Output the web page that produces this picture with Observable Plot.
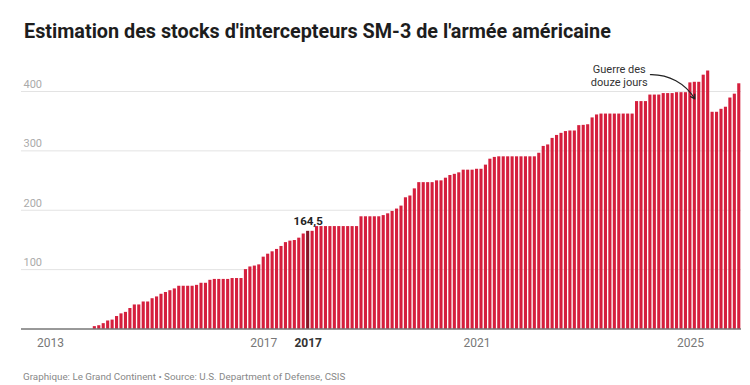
<!DOCTYPE html>
<html><head><meta charset="utf-8">
<script src="https://cdn.jsdelivr.net/npm/d3@7"></script>
<script src="https://cdn.jsdelivr.net/npm/@observablehq/plot@0.6"></script>
<style>
body{margin:0;background:#fff;font-family:Roboto,sans-serif;}
#title{margin:0;padding:20px 0 0 24px;height:30px;font-size:19.8px;line-height:24px;font-weight:700;color:#1d1d1d;white-space:nowrap;}
#footer{padding:10px 0 0 23px;font-size:9.8px;line-height:14px;color:#888;}
</style></head><body>
<div id="title">Estimation des stocks d'intercepteurs SM-3 de l'armée américaine</div>
<div id="chart"></div>
<div id="footer">Graphique: Le Grand Continent • Source: U.S. Department of Defense, CSIS</div>
<script>
// Monthly categories, July 2012 – December 2025
const months = d3.utcMonth.range(new Date(Date.UTC(2012, 6, 1)), new Date(Date.UTC(2026, 0, 1))).map(d3.utcFormat("%Y-%m"));

// Estimated SM-3 stock per month
const values = [
  0,0,0,0,0,0,0,0,0,0,0,0,0,0,0,0,
  4,5.5,9,13.5,15,21,25.5,28,34.5,40.5,
  40.5,45.5,45.5,51,54,58.5,61.5,64.5,67.5,72,
  72,72,72,73.5,77,77,82,83.5,83.5,83.5,
  83.5,85,85,85,100,104.5,106,108,121,126,
  130,134,139,145.5,148,149,153,160,164.5,164.5,
  172.5,172.5,172.5,172.5,172.5,172.5,172.5,172.5,172.5,172.5,
  189,189,189,189,189,191,194,198,202,207,
  221,224,236,246.5,246.5,246.5,246.5,249.5,249.5,254,
  258.5,260.5,263,267.5,267.5,267.5,269,269,276,286,
  289,290,290,290,290,290,290,290,290,290,
  296,307.5,310,321,326,329.5,332.5,333.5,333.5,342.5,
  343,344,355.5,360.5,362,362,362,362,362,362,
  362,362,383,383,383,394,394,394,396.5,396.5,
  396.5,398,398,398,414.5,415.5,415.5,427.5,434.5,365,
  365,370,373.5,389,395.5,413
];

const xTicks = ["2013-01", "2017-01", "2021-01", "2025-01"];
const yTicks = [100, 200, 300, 400];

const highlightMonth = ["2017-11"];
const highlightLabel = ["164,5"];

const noteMonth = ["2023-09"];
const noteValue = [427];
const noteText = ["Guerre des\ndouze jours"];

const arrowFromMonth = ["2024-04"];
const arrowFromValue = [428.5];
const arrowToMonth = ["2025-02"];
const arrowToValue = [387.5];

const data = months.map((m, i) => ({month: m, value: values[i]}));
const highlight = data.filter(d => highlightMonth.includes(d.month)).map((d, i) => ({...d, label: highlightLabel[i]}));
const notes = noteMonth.map((m, i) => ({month: m, value: noteValue[i], text: noteText[i]}));
const arrows = arrowFromMonth.map((m, i) => ({m1: m, v1: arrowFromValue[i], m2: arrowToMonth[i], v2: arrowToValue[i]}));

const chart = Plot.plot({
  width: 750,
  height: 310,
  marginLeft: 21,
  marginRight: 9,
  marginTop: 17.25,
  marginBottom: 31.5,
  style: {fontFamily: "Roboto, sans-serif", background: "white", overflow: "visible"},
  x: {type: "band", domain: months, paddingInner: 0.3, paddingOuter: 0.15},
  y: {domain: [0, 440]},
  marks: [
    Plot.ruleY(yTicks, {stroke: "#e3e3e3"}),
    Plot.axisY(yTicks, {anchor: "left", tickSize: 0, tickPadding: 0, textAnchor: "start", dx: 2, dy: -7, fill: "#aaa", fontSize: 11, label: null}),
    Plot.barY(data.filter(d => !highlightMonth.includes(d.month)), {x: "month", y: "value", fill: "#d51f3d"}),
    Plot.barY(highlight, {x: "month", y: "value", fill: "#861426"}),
    Plot.ruleY([0], {stroke: "#333"}),
    Plot.axisX(xTicks, {tickSize: 0, tickPadding: 9, tickFormat: d => d.slice(0, 4), fill: "#777", fontSize: 12, label: null}),
    Plot.text(highlight, {x: "month", y: () => 0, text: d => d.month.slice(0, 4), lineAnchor: "top", dy: 9, fontSize: 12, fontWeight: "bold", fill: "#333"}),
    Plot.text(highlight, {x: "month", y: "value", text: "label", dy: -10, fontSize: 11.5, fontWeight: "bold", fill: "#222"}),
    Plot.text(notes, {x: "month", y: "value", text: "text", fontSize: 11, lineHeight: 1.14, fill: "#333"}),
    Plot.arrow(arrows, {x1: "m1", y1: "v1", x2: "m2", y2: "v2", bend: 30, stroke: "#222", strokeWidth: 1.2, headLength: 6})
  ]
});
document.getElementById("chart").appendChild(chart);
</script></body></html>
